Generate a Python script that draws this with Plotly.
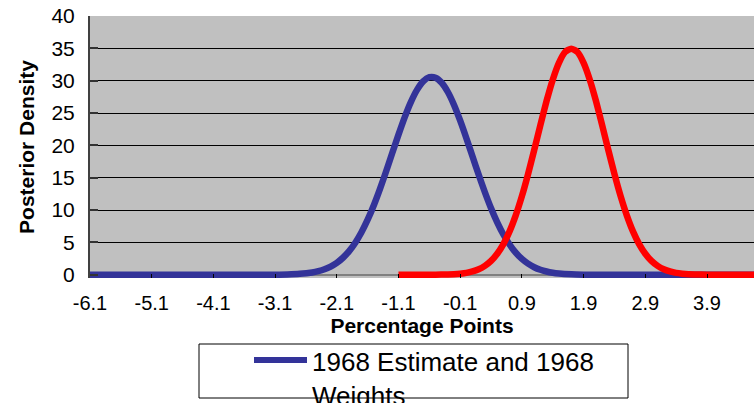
import plotly.graph_objects as go

# ---- data ----
blue_name = "1968 Estimate and 1968 Weights"
blue_x = [-6.1, -5.1, -4.1, -3.5, -3.1, -2.9, -2.7, -2.5,
          -2.4, -2.3, -2.2, -2.1, -2.0, -1.9, -1.8, -1.7, -1.6, -1.5,
          -1.4, -1.3, -1.2, -1.1, -1.0, -0.9, -0.8, -0.7, -0.6, -0.5,
          -0.4, -0.3, -0.2, -0.1, 0.0, 0.1, 0.2, 0.3, 0.4, 0.5,
          0.6, 0.7, 0.8, 0.9, 1.0, 1.1, 1.2, 1.3, 1.4, 1.5,
          1.7, 1.9, 2.1, 2.5, 3.5, 4.7]
blue_y = [0.0, 0.0, 0.0, 0.0, 0.02, 0.05, 0.14, 0.36,
          0.56, 0.85, 1.27, 1.85, 2.63, 3.65, 4.96, 6.57, 8.51, 10.75,
          13.28, 16.01, 18.85, 21.67, 24.34, 26.69, 28.58, 29.90, 30.54, 30.47,
          29.69, 28.25, 26.25, 23.82, 21.11, 18.27, 15.45, 12.75, 10.28, 8.10,
          6.22, 4.68, 3.43, 2.45, 1.72, 1.17, 0.78, 0.51, 0.32, 0.20,
          0.07, 0.02, 0.01, 0.0, 0.0, 0.0]

red_name = "Second estimate"
red_x = [-1.1, -0.5, -0.3, -0.2, -0.1, 0.0, 0.1, 0.2, 0.3, 0.4, 0.5,
         0.6, 0.7, 0.8, 0.9, 1.0, 1.1, 1.2, 1.3, 1.4, 1.5,
         1.6, 1.7, 1.8, 1.9, 2.0, 2.1, 2.2, 2.3, 2.4, 2.5,
         2.6, 2.7, 2.8, 2.9, 3.0, 3.1, 3.2, 3.3, 3.4, 3.5,
         3.6, 3.7, 3.9, 4.7]
red_y = [0.0, 0.01, 0.05, 0.09, 0.17, 0.29, 0.51, 0.85, 1.37, 2.14, 3.24,
         4.74, 6.70, 9.18, 12.15, 15.57, 19.31, 23.15, 26.87, 30.16, 32.76,
         34.43, 34.95, 34.43, 32.76, 30.16, 26.87, 23.15, 19.31, 15.57, 12.15,
         9.18, 6.70, 4.74, 3.24, 2.14, 1.37, 0.85, 0.51, 0.29, 0.17,
         0.09, 0.05, 0.01, 0.0]

x_tick_vals = [-6.1, -5.1, -4.1, -3.1, -2.1, -1.1, -0.1, 0.9, 1.9, 2.9, 3.9]
x_tick_text = ["-6.1", "-5.1", "-4.1", "-3.1", "-2.1", "-1.1", "-0.1", "0.9", "1.9", "2.9", "3.9"]
y_tick_vals = [0, 5, 10, 15, 20, 25, 30, 35, 40]
x_title = "Percentage Points"
y_title = "Posterior Density"
legend_text = "1968 Estimate and 1968<br>Weights"

FONT = "Arial, 'Liberation Sans', sans-serif"
BLUE = "#333399"
RED = "#FF0000"

W, H = 754, 403
ML, MR, MT, MB = 90, 0, 16, 125
PW, PH = W - ML - MR, H - MT - MB


def px_x(p):
    return (p - ML) / PW


def px_y(p):
    return (H - MB - p) / PH


fig = go.Figure()
fig.add_trace(go.Scatter(x=blue_x, y=blue_y, mode="lines", name=blue_name,
                         line=dict(color=BLUE, width=6.5, shape="spline", smoothing=0.6),
                         showlegend=False))
fig.add_trace(go.Scatter(x=red_x, y=red_y, mode="lines", name=red_name,
                         line=dict(color=RED, width=6.5, shape="spline", smoothing=0.6),
                         showlegend=False))

# manual legend box (as in the reference, clipped at the bottom)
fig.add_shape(type="rect", xref="paper", yref="paper",
              x0=px_x(199), x1=px_x(628), y0=px_y(398), y1=px_y(344),
              line=dict(color="#000000", width=1), fillcolor="white", layer="above")
fig.add_shape(type="line", xref="paper", yref="paper",
              x0=px_x(254), x1=px_x(307), y0=px_y(360), y1=px_y(360),
              line=dict(color=BLUE, width=6), layer="above")
fig.add_annotation(xref="paper", yref="paper", x=px_x(310), y=px_y(345),
                   xanchor="left", yanchor="top", align="left", showarrow=False,
                   text=legend_text, font=dict(family=FONT, size=26, color="#000000"))

fig.update_layout(
    width=W, height=H,
    margin=dict(l=ML, r=MR, t=MT, b=MB, autoexpand=False),
    paper_bgcolor="white",
    plot_bgcolor="#C0C0C0",
    font=dict(family=FONT, color="#000000"),
    showlegend=False,
)

fig.update_xaxes(
    range=[-6.1, -6.1 + PW / 61.7],
    tickmode="array", tickvals=x_tick_vals, ticktext=x_tick_text,
    ticks="inside", ticklen=4, tickwidth=1, tickcolor="#000000",
    showgrid=False, zeroline=False, showline=False,
    tickfont=dict(family=FONT, size=20, color="#000000"),
    ticklabelstandoff=11,
    title=dict(text=x_title, font=dict(family=FONT, size=21, weight="bold"), standoff=0),
)
fig.update_yaxes(
    range=[-0.5, 40],
    tickmode="array", tickvals=y_tick_vals,
    ticks="inside", ticklen=8, tickwidth=2, tickcolor="#333333",
    showgrid=True, gridcolor="#000000", gridwidth=1,
    zeroline=True, zerolinecolor="#808080", zerolinewidth=2,
    showline=True, linecolor="#404040", linewidth=2,
    tickfont=dict(family=FONT, size=21, color="#000000"),
    ticklabelstandoff=9,
    title=dict(text=y_title, font=dict(family=FONT, size=21, weight="bold"), standoff=11),
)

fig.write_html("out.html", config={"displayModeBar": False},
               post_script="document.body.style.margin='0';")
